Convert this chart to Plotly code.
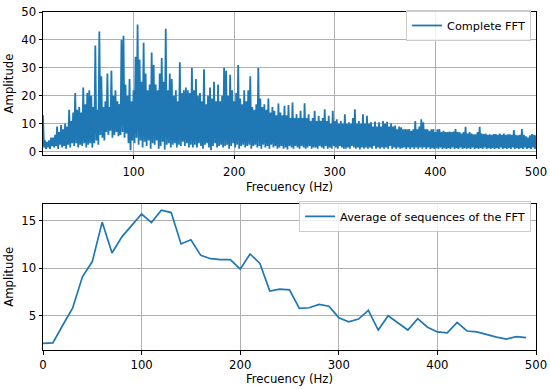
import numpy as np
import plotly.graph_objects as go

# ---------------- data ----------------
# Complete FFT: local maxima (at even Hz) and minima (at odd Hz)
fft_freq_start = 10
fft_freq_step = 2
fft_peak_amp = [
    13, 4, 3.5, 4, 5,
    5, 6, 9, 7, 9.5,
    8, 10, 9, 15, 11,
    14, 21, 15, 16, 14,
    23, 17, 21, 22, 20,
    16, 38, 15, 43, 27,
    16, 18, 28, 16, 29,
    20, 22, 18, 17, 40,
    41.5, 24, 20, 26, 18,
    22, 34, 45.5, 33, 25,
    39, 28, 22, 24, 35.5,
    31, 24, 22, 28, 33.5,
    25, 44, 22, 28, 26,
    20, 22, 18, 32, 21,
    22, 23, 22, 21, 30,
    22, 26, 20, 21, 18,
    29.5, 17, 20, 23, 19,
    25, 18, 24, 18, 20,
    30, 29, 20, 27.5, 22,
    18, 21, 31, 19, 17,
    22, 18, 22, 27, 16,
    15, 17, 30, 19, 16,
    17, 15, 19, 14, 16,
    14.6, 13, 17.2, 14, 13,
    16.4, 13, 16.7, 12, 17.6,
    12, 13.4, 12, 14.6, 12,
    17.3, 12, 13.4, 11, 12,
    14.6, 11, 12.8, 11, 12,
    15.2, 11, 12.8, 10, 14.6,
    11, 11.6, 10, 11, 10,
    13.4, 10, 10.5, 10, 12,
    15.2, 10, 11, 10, 13.4,
    10, 12.8, 10, 10.5, 9,
    10.8, 9, 10.5, 9, 11,
    10, 10.7, 9, 10.1, 9,
    9.3, 8, 9, 8.7, 8,
    8.1, 8, 8.1, 7.5, 8,
    11, 8, 9, 11.6, 10.5,
    8, 8.1, 7.5, 8, 8.1,
    7, 8, 8.1, 7, 7.5,
    7, 7, 7.2, 7, 7.2,
    8.1, 7, 7, 6.5, 7,
    8.9, 6.5, 7, 6.5, 6.2,
    6.2, 7, 8.9, 6.5, 6.3,
    6.5, 6, 6.2, 6, 6.3,
    6.3, 6, 6.5, 6, 6.5,
    6, 6.2, 6.2, 6, 7.7,
    6, 5.8, 6, 8.1, 6,
    5.5, 5, 5.8, 6.3, 6,
    5.8,
]
fft_trough_amp = [
    1.5, 1, 1.5, 1, 2,
    1.5, 2, 1, 2.5, 1.5,
    2, 1, 2.5, 1.5, 3,
    2, 3, 1.5, 2.5, 2,
    3, 1.5, 2.5, 3, 1.5,
    3, 4, 2.5, 6, 5,
    4, 7, 6, 7.5, 5,
    6, 7, 5.5, 6, 7,
    5, 6.5, 3, 0.5, 4,
    3, 5, 2.5, 4, 1.5,
    3.5, 2, 4, 1, 3,
    2.5, 4, 1, 2, 3.5,
    0.8, 2.5, 3, 1.5, 2.5,
    3, 1.5, 2.5, 2, 3.5,
    2, 3, 1.5, 2.5, 1.5,
    2.5, 1.5, 3, 2, 1,
    2.5, 3, 1.5, 0.5, 2,
    3, 1.5, 2, 2.5, 1.5,
    2, 2.5, 1, 2, 3,
    1.5, 2.5, 1, 2, 2.5,
    1.5, 2, 2.5, 1, 2,
    2.5, 1.5, 2, 1, 2.5,
    1.5, 2, 1, 2.5, 1.5,
    2, 1, 1.5, 2, 1,
    1.5, 0.8, 2, 1.5, 1,
    2, 1.5, 1, 2, 1.5,
    1, 1.5, 2, 1, 1.5,
    1.5, 1, 2, 1.5, 1,
    2, 1, 1.5, 1, 2,
    1.5, 1, 2, 1.5, 1,
    1, 1.5, 1, 2, 1.5,
    1, 1.5, 0.8, 1.5, 1,
    1.5, 1, 1.5, 1, 2,
    1, 1.5, 1, 1.5, 1,
    1.5, 1, 2, 1, 1.5,
    1, 1.5, 1, 1.2, 1.5,
    1, 1.5, 1, 1.5, 1,
    1.5, 1, 1.5, 1, 1.5,
    1, 1.5, 1, 1.2, 1,
    1.2, 1, 1.5, 1, 1.2,
    1, 1.2, 1, 1.5, 1,
    1.2, 1, 1.5, 1, 1.2,
    1, 1.2, 1, 1.5, 1,
    1.2, 1, 1.2, 1, 1.5,
    1, 1.2, 1, 1.2, 1,
    1.2, 1, 1.5, 1, 1.2,
    1, 1.2, 1, 1.5, 1,
    1.2, 1, 1.2, 1, 1.5,
    1, 1.2, 1, 1.5, 1,
    2,
]

# Average of sequences of the FFT (every 10 Hz)
avg_freq = list(range(0, 500, 10))
avg_amp = [
    2.1, 2.15, 4.0, 5.8, 9.1, 10.7, 14.85, 11.6, 13.3, 14.5,
    15.7, 14.8, 16.1, 15.85, 12.55, 13.0, 11.35, 11.0, 10.9, 10.9,
    9.9, 11.5, 10.5, 7.6, 7.8, 7.73, 5.77, 5.84, 6.2, 6.0,
    4.8, 4.37, 4.65, 5.56, 3.5, 5.0, 4.27, 3.5, 4.7, 3.8,
    3.3, 3.2, 4.3, 3.4, 3.3, 3.0, 2.76, 2.55, 2.8, 2.7,
]

top_xticks = [100, 200, 300, 400, 500]
top_yticks = [0, 10, 20, 30, 40, 50]
bot_xticks = [0, 100, 200, 300, 400, 500]
bot_yticks = [5, 10, 15]

# ---------------- build line ----------------
n = len(fft_peak_amp)
peak_f = fft_freq_start + fft_freq_step * np.arange(n)
trough_f = peak_f + 1
fft_x = np.empty(2 * n)
fft_y = np.empty(2 * n)
fft_x[0::2] = peak_f
fft_x[1::2] = trough_f
fft_y[0::2] = np.array(fft_peak_amp, dtype=float)
fft_y[1::2] = np.array(fft_trough_amp, dtype=float)

BLUE = '#1f77b4'
FONT = 'DejaVu Sans, Arial, sans-serif'
FS = 11.7

fig = go.Figure()
fig.add_trace(go.Scatter(x=fft_x, y=fft_y, mode='lines', name='Complete FFT',
                         line=dict(color=BLUE, width=1.8, simplify=False),
                         xaxis='x', yaxis='y', legend='legend'))
fig.add_trace(go.Scatter(x=avg_freq, y=avg_amp, mode='lines',
                         name='Average of sequences of the FFT',
                         line=dict(color=BLUE, width=1.7), xaxis='x2', yaxis='y2',
                         legend='legend2'))

ax_style = dict(showline=True, mirror=True, linecolor='black', linewidth=1,
                ticks='outside', ticklen=3.5, tickwidth=1, tickcolor='black',
                showgrid=True, gridcolor='#b0b0b0', gridwidth=0.8, zeroline=False,
                automargin=False,
                tickfont=dict(family=FONT, size=FS, color='black'),
                title_font=dict(family=FONT, size=FS, color='black'))

leg_style = dict(xanchor='right', yanchor='top', bgcolor='rgba(255,255,255,0.8)',
                 bordercolor='#cccccc', borderwidth=1, itemwidth=30,
                 font=dict(family=FONT, size=11.3, color='black'))

fig.update_layout(
    width=550, height=389,
    margin=dict(l=43, r=14, t=11, b=39),
    paper_bgcolor='white', plot_bgcolor='white',
    showlegend=True,
    xaxis=dict(ax_style, domain=[0, 1], anchor='y', range=[10, 500],
               tickvals=top_xticks, ticklabelstandoff=2,
               title=dict(text='Frecuency (Hz)', standoff=5)),
    yaxis=dict(ax_style, domain=[0.577, 1], anchor='x', range=[-1.2, 50],
               tickvals=top_yticks, title=dict(text='Amplitude', standoff=5)),
    xaxis2=dict(ax_style, domain=[0, 1], anchor='y2', range=[0, 500],
                tickvals=bot_xticks, title=dict(text='Frecuency (Hz)', standoff=3)),
    yaxis2=dict(ax_style, domain=[0, 0.4327], anchor='x2', range=[1.4, 16.78],
                tickvals=bot_yticks, title=dict(text='Amplitude', standoff=5)),
    legend=dict(leg_style, x=0.99, y=1.003),
    legend2=dict(leg_style, x=0.99, y=0.44),
)

fig.write_html('out.html', config={'displayModeBar': False},
               post_script="document.body.style.margin='0';")
